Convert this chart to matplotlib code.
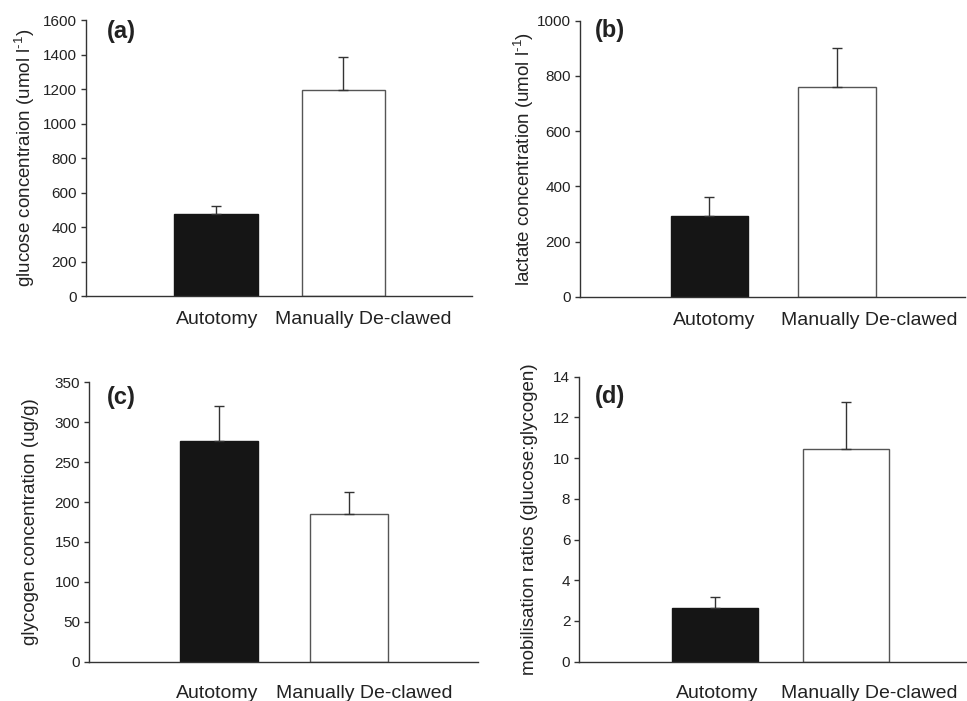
import numpy as np
import matplotlib
matplotlib.use("Agg")
import matplotlib.pyplot as plt

plt.rcParams['font.family'] = ['Liberation Sans', 'DejaVu Sans']
plt.rcParams['mathtext.default'] = 'regular'

categories = ['Autotomy', 'Manually De-clawed']

glucose_mean = [475, 1192]
glucose_se = [48, 192]
lactate_mean = [292, 760]
lactate_se = [70, 142]
glycogen_mean = [277, 185]
glycogen_se = [43, 28]
ratio_mean = [2.65, 10.45]
ratio_se = [0.51, 2.31]

glucose_ticks = [0, 200, 400, 600, 800, 1000, 1200, 1400, 1600]
lactate_ticks = [0, 200, 400, 600, 800, 1000]
glycogen_ticks = [0, 50, 100, 150, 200, 250, 300, 350]
ratio_ticks = [0, 2, 4, 6, 8, 10, 12, 14]

bar_colors = ['#151515', 'white']
axis_color = '#333333'

# layout per panel: axes rect, xlim, bar width, label shift, tick pad, ylabel x, panel tag pos
panels = [
    dict(mean=glucose_mean, se=glucose_se, ticks=glucose_ticks, tag='(a)',
         ylabel='glucose concentraion (umol l$^{\u20101}$)',
         rect=[0.0889, 0.5777, 0.3992, 0.3937], xlim=(-1.02, 2.01), width=0.655,
         shift=[0.01, 0.16], pad=11, ylx=-0.127, tagpos=(0.054, 0.96)),
    dict(mean=lactate_mean, se=lactate_se, ticks=lactate_ticks, tag='(b)',
         ylabel='lactate concentration (umol l$^{\u20101}$)',
         rect=[0.5998, 0.5767, 0.3981, 0.3937], xlim=(-1.013, 1.999), width=0.607,
         shift=[0.035, 0.25], pad=11, ylx=-0.114, tagpos=(0.039, 0.966)),
    dict(mean=glycogen_mean, se=glycogen_se, ticks=glycogen_ticks, tag='(c)',
         ylabel='glycogen concentration (ug/g)',
         rect=[0.0920, 0.0561, 0.4023, 0.3986], xlim=(-1.005, 1.997), width=0.602,
         shift=[-0.015, 0.12], pad=17, ylx=-0.128, tagpos=(0.047, 0.944)),
    dict(mean=ratio_mean, se=ratio_se, ticks=ratio_ticks, tag='(d)',
         ylabel='mobilisation ratios (glucose:glycogen)',
         rect=[0.5991, 0.0561, 0.4009, 0.4066], xlim=(-1.031, 1.92), width=0.653,
         shift=[0.02, 0.175], pad=17, ylx=-0.106, tagpos=(0.039, 0.932)),
]

fig = plt.figure(figsize=(9.67, 7.01), dpi=100)

for p in panels:
    ax = fig.add_axes(p['rect'])
    x = np.arange(len(categories))
    lower = np.zeros(len(categories))
    ax.bar(x, p['mean'], width=p['width'], color=bar_colors,
           edgecolor=['#151515', '#555555'], linewidth=1.0,
           yerr=[lower, p['se']], capsize=3.5,
           error_kw=dict(ecolor='#333333', elinewidth=1.0, capthick=1.0))
    ax.set_xlim(*p['xlim'])
    ax.set_ylim(0, p['ticks'][-1])
    ax.set_yticks(p['ticks'])
    ax.set_xticks(x + np.array(p['shift']))
    ax.set_xticklabels(categories, fontsize=14, color='#222222')
    ax.tick_params(axis='x', length=0, pad=p['pad'])
    ax.tick_params(axis='y', length=3.5, width=1.0, color=axis_color,
                   labelsize=11, labelcolor='#222222', pad=3)
    for s in ['top', 'right']:
        ax.spines[s].set_visible(False)
    for s in ['left', 'bottom']:
        ax.spines[s].set_color(axis_color)
        ax.spines[s].set_linewidth(1.0)
    ax.set_ylabel(p['ylabel'], fontsize=13.5, color='#222222')
    ax.yaxis.set_label_coords(p['ylx'], 0.5)
    ax.text(p['tagpos'][0], p['tagpos'][1], p['tag'], transform=ax.transAxes,
            fontsize=17, fontweight='bold', ha='left', va='center', color='#222222')

fig.savefig('out.png', dpi=100)
